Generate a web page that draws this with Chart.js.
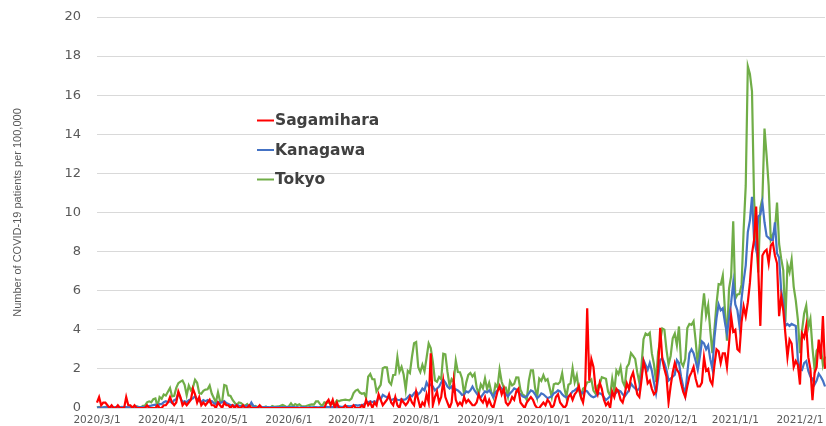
<!DOCTYPE html>
<html><head><meta charset="utf-8">
<script src="https://cdn.jsdelivr.net/npm/chart.js@4.4.1/dist/chart.umd.min.js"></script>
<style>html,body{margin:0;padding:0;background:#fff;}canvas{display:block;}</style>
</head><body>
<canvas id="c" width="826" height="426"></canvas>
<script>
// ---- data ----
const firstDay = '2020/3/1';
const dayCount = 350;
const monthTicks = ['2020/3/1','2020/4/1','2020/5/1','2020/6/1','2020/7/1','2020/8/1','2020/9/1','2020/10/1','2020/11/1','2020/12/1','2021/1/1','2021/2/1'];
const seriesNames = ['Sagamihara','Kanagawa','Tokyo'];
const yTickValues = [0,2,4,6,8,10,12,14,16,18,20];

const sagamihara = [
// Mar
0.28,0.56,0.14,0.28,0.28,0.14,0, 0.14,0,0,0.14,0,0,0, 0.56,0.14,0.14,0,0.14,0,0, 0,0,0,0.14,0,0,0, 0,0.14,0,
// Apr
0,0.14,0.14,0.28, 0.56,0.28,0.14,0.28,0.84,0.56,0.14, 0.28,0.14,0.28,0.42,0.98,0.7,0.28, 0.56,0.14,0.28,0.14,0.28,0.42,0.14, 0.14,0,0.28,0.14,0,
// May
0.28,0.14,0.14,0,0.14,0,0.14, 0,0,0.14,0,0,0.14,0, 0,0,0,0.14,0,0,0, 0,0,0,0,0,0,0, 0,0,0,
// Jun
0,0,0,0,0,0,0, 0,0,0,0,0,0,0, 0,0,0,0,0.28,0.42,0.14, 0.42,0,0.28,0,0,0,0.14, 0,0,
// Jul
0,0.14,0,0, 0,0.14,0,0.42,0.14,0.28,0, 0.28,0.14,0.7,0.42,0.14,0.28,0.42, 0.7,0.28,0.14,0.56,0.14,0,0.42, 0.28,0.14,0.28,0.56,0.28,0.14,
// Aug
0.84,0.42,0,0.28,0.14,0.7,0.28, 2.8,0.14,0.56,0.84,0.28,0.56,1.4, 0.56,0.28,0,0.28,1.4,0.42,0.14, 0.28,0.14,0.56,0.28,0.42,0.28,0.14, 0.14,0.28,0.7,
// Sep
0.42,0.28,0.56,0.14,0.42,0.14,0, 0.42,0.84,1.12,0.7,0.98,0.28,0.14, 0.28,0.56,0.42,0.84,0.98,0.28,0.14, 0,0.28,0.42,0.56,0.42,0.14,0, 0,0.14,
// Oct
0.28,0.14,0.42,0.28,0,0.14,0.56, 0.7,0.28,0.14,0,0.14,0.56,0.7, 0.42,0.7,0.84,1.12,0.56,0.28,0.98, 5.1,1.4,2.5,2.1,1.0,0.7,1.3, 0.98,0.42,0.14,
// Nov
0.28,0,0.84,0.56,0.98,0.84,0.42, 0.28,0.7,1.26,0.98,1.54,1.82,1.26, 0.7,0.56,1.4,2.38,1.96,1.26,1.4, 0.98,0.7,0.84,2.0,4.1,2.5,2.0, 1.6,0.28,
// Dec
1.12,1.82,2.3,1.96,1.8,1.26,0.84, 0.56,1.12,1.6,1.82,2.1,1.5,1.1, 1.1,1.3,2.6,1.9,2.0,1.4,1.2, 2.2,3.0,2.9,2.3,2.8,2.8,2.1, 3.3,4.7,3.9,
// Jan
4.0,3.0,2.9,4.4,5.2,4.7,5.4, 6.4,7.9,8.6,10.3,7.1,4.2,7.8, 8.0,8.1,7.4,8.3,8.45,7.8,7.4, 4.7,5.7,5.0,3.8,2.6,3.5,3.3, 2.1,2.4,2.2,
// Feb
1.2,3.8,3.6,4.2,2.6,2.0,0.4,1.8,2.1,3.5,2.5,4.7,2.0
];

const kanagawa = [
// Mar
0.02,0.03,0.01,0.03,0.04,0.03,0.05, 0.02,0.03,0.04,0.05,0.03,0.06,0.04, 0.05,0.03,0.06,0.04,0.05,0.07,0.05, 0.04,0.06,0.05,0.08,0.1,0.12,0.15, 0.17,0.1,0.2,
// Apr
0.2,0.3,0.35,0.3, 0.35,0.25,0.4,0.45,0.75,0.5,0.3, 0.35,0.3,0.4,0.45,0.5,0.6,0.45, 0.35,0.3,0.4,0.35,0.4,0.3,0.35, 0.25,0.2,0.3,0.25,0.3,
// May
0.35,0.25,0.2,0.15,0.15,0.1,0.15, 0.12,0.1,0.08,0.1,0.12,0.08,0.28, 0.1,0.06,0.05,0.08,0.06,0.05,0.04, 0.05,0.03,0.04,0.03,0.05,0.04,0.03, 0.04,0.03,0.05,
// Jun
0.05,0.04,0.06,0.03,0.04,0.02,0.03, 0.04,0.03,0.02,0.04,0.03,0.05,0.04, 0.03,0.04,0.05,0.03,0.06,0.05,0.04, 0.06,0.07,0.05,0.08,0.06,0.07,0.09, 0.1,0.08,
// Jul
0.1,0.12,0.15,0.12, 0.15,0.12,0.2,0.25,0.3,0.35,0.3, 0.35,0.3,0.55,0.45,0.67,0.6,0.55, 0.5,0.4,0.45,0.5,0.42,0.4,0.45, 0.42,0.45,0.55,0.67,0.6,0.75,
// Aug
0.85,0.7,0.8,1.0,0.9,1.3,1.1, 1.2,1.1,0.9,1.0,1.1,1.3,1.45, 1.3,1.1,1.0,1.1,0.85,0.95,0.9, 0.8,0.67,0.7,0.85,0.8,0.9,1.1, 0.9,0.75,0.6,
// Sep
0.55,0.7,0.85,0.8,0.9,0.75,0.55, 0.8,0.9,1.1,1.0,0.85,0.7,0.6, 0.75,0.85,1.0,0.95,0.8,0.7,0.6, 0.55,0.6,0.75,0.9,0.85,0.7,0.5, 0.6,0.75,
// Oct
0.7,0.6,0.5,0.55,0.6,0.75,0.8, 0.9,0.85,0.7,0.6,0.55,0.6,0.7, 0.85,0.9,1.0,0.95,0.8,0.75,0.9, 0.85,0.7,0.6,0.55,0.6,0.7,0.75, 0.7,0.55,0.4,
// Nov
0.5,0.6,0.75,0.7,0.8,0.9,0.85, 0.7,0.6,0.75,0.9,1.25,1.1,1.0, 0.9,1.0,1.6,2.45,2.2,1.95,2.3, 1.9,1.3,0.75,1.5,2.45,2.55,2.3, 1.95,1.4,
// Dec
1.5,1.6,1.7,2.45,2.3,1.6,1.1, 0.65,1.8,2.8,3.0,2.8,2.4,1.95, 2.6,3.4,3.3,3.0,3.2,2.5,2.0, 3.6,4.6,5.3,5.0,5.1,4.4,3.8, 4.6,5.4,6.4,
// Jan
5.3,5.0,4.2,5.6,6.5,7.3,9.0, 9.6,10.8,8.6,8.1,9.8,9.9,10.5, 9.5,8.8,8.7,8.6,8.6,9.5,7.9, 7.7,6.0,5.4,4.2,4.3,4.2,4.3, 4.25,4.2,2.45,
// Feb
2.0,1.95,2.3,2.4,1.9,1.6,1.5,1.2,1.4,1.75,1.6,1.4,1.1
];

const tokyo = [
// Mar
0.02,0.06,0.01,0.03,0.06,0.04,0.01, 0.01,0,0.04,0.05,0.01,0.04,0.01, 0.04,0.01,0.04,0.06,0.05,0.08,0.05, 0.02,0.11,0.12,0.29,0.34,0.29,0.45, 0.49,0.09,0.56,
// Apr
0.47,0.69,0.64,0.83,1.02,0.59,0.62,1.03,1.27,1.35, 1.41,1.19,0.65,1.15,0.91,1.06,1.44,1.29,0.76,0.73, 0.88,0.94,0.96,1.15,0.74,0.51,0.28,0.8,0.34,0.33,
// May
1.18,1.14,0.65,0.62,0.41,0.27,0.16,0.28,0.26,0.16, 0.11,0.2,0.07,0.21,0.06,0.1,0.04,0.07,0.04,0.04, 0.08,0.02,0.01,0.1,0.06,0.07,0.08,0.11,0.16,0.1, 0.04,
// Jun
0.09,0.24,0.09,0.2,0.14,0.19,0.1,0.09,0.09,0.13, 0.16,0.18,0.17,0.34,0.34,0.19,0.11,0.29,0.25,0.28, 0.25,0.21,0.22,0.39,0.34,0.39,0.41,0.43,0.41,0.39,
// Jul
0.48,0.76,0.89,0.94,0.79,0.73,0.76,0.54,1.6,1.74, 1.47,1.47,0.85,1.02,1.18,2.04,2.09,2.07,1.34,1.2, 1.69,1.7,2.61,1.86,2.11,1.71,0.94,1.9,1.79,2.62, 3.31,
// Aug
3.37,2.09,1.84,2.21,1.88,2.57,3.3,3.06,2.36,1.41, 1.34,1.59,1.47,2.78,2.75,1.86,1.15,1.48,1.33,2.42, 1.84,1.83,1.51,0.68,1.3,1.69,1.79,1.61,1.76,1.06, 0.71,
// Sep
1.21,1.01,1.51,0.97,1.29,0.83,0.55,1.21,1.06,1.97, 1.34,1.04,1.04,0.58,1.36,1.16,1.24,1.57,1.56,0.94, 0.7,0.63,0.42,1.39,1.93,1.93,1.03,0.56,1.51,1.39,
// Oct
1.68,1.4,1.48,1.02,0.56,1.21,1.26,1.23,1.33,1.78, 1.04,0.56,1.19,1.26,2.03,1.32,1.68,0.93,0.56,0.99, 1.07,1.32,1.33,1.45,0.89,0.73,1.13,1.22,1.58,1.54, 1.49,
// Nov
0.83,0.62,1.49,0.87,1.92,1.73,2.1,1.35,1.12,2.09, 2.26,2.81,2.67,2.51,1.82,1.29,2.13,3.52,3.81,3.73, 3.85,2.79,2.24,1.33,2.86,3.44,4.07,4.01,2.99,2.22,
// Dec
2.66,3.57,3.81,3.21,4.17,2.34,2.14,2.51,4.09,4.3, 4.25,4.44,3.43,2.18,3.29,4.84,5.87,4.74,5.26,3.97, 2.8,4.02,5.34,6.34,6.31,6.78,5.06,3.44,6.11,6.74, 9.55,
// Jan
5.59,5.81,5.83,6.31,9.13,11.36,17.48,17.09,16.2,10.67, 8.71,6.93,10.24,10.73,14.29,12.92,11.37,8.6,8.86,9.1, 10.51,8.39,7.64,7.04,4.41,7.33,6.95,7.6,6.2,5.49, 4.52,
// Feb
2.81,3.97,4.83,5.24,4.12,4.56,3.06,1.97,2.94,3.1,3.1,2.19,2.64
];

// ---- daily category labels ----
const labels = [];
(function(){
  const p = firstDay.split('/').map(Number);
  for (let i = 0; i < dayCount; i++) {
    const d = new Date(Date.UTC(p[0], p[1]-1, p[2]+i));
    labels.push(d.getUTCFullYear() + '/' + (d.getUTCMonth()+1) + '/' + d.getUTCDate());
  }
})();

const colors = ['#FF0000', '#4472C4', '#70AD47'];
const seriesData = [sagamihara, kanagawa, tokyo];

const inlineLegend = {
  id: 'inlineLegend',
  afterDraw(chart) {
    const ctx = chart.ctx;
    const rows = [120.5, 150, 179.5];
    chart.data.datasets.forEach((ds, i) => {
      const y = rows[i];
      ctx.save();
      ctx.strokeStyle = ds.borderColor;
      ctx.lineWidth = 2;
      ctx.beginPath();
      ctx.moveTo(257, y);
      ctx.lineTo(274, y);
      ctx.stroke();
      ctx.fillStyle = '#404040';
      ctx.font = 'bold 15.5px "DejaVu Sans"';
      ctx.textBaseline = 'middle';
      ctx.textAlign = 'left';
      ctx.fillText(ds.label, 275, y + 0.5);
      ctx.restore();
    });
  }
};

function zeroPad(s) { s.paddingTop = 0; s.paddingBottom = 0; s.paddingLeft = 0; s.paddingRight = 0; }

new Chart(document.getElementById('c'), {
  type: 'line',
  data: {
    labels: labels,
    datasets: seriesNames.map((name, i) => ({
      label: name,
      data: seriesData[i],
      borderColor: colors[i],
      backgroundColor: colors[i],
      borderWidth: 2.2,
      pointRadius: 0,
      pointHoverRadius: 0,
      tension: 0,
      fill: false
    }))
  },
  options: {
    responsive: false,
    animation: false,
    devicePixelRatio: 1,
    layout: { padding: { top: 17, right: 1, left: 0, bottom: 0 } },
    plugins: { legend: { display: false }, tooltip: { enabled: false } },
    scales: {
      x: {
        type: 'category',
        grid: { display: false, drawTicks: false },
        border: { display: false },
        afterBuildTicks: (axis) => {
          axis.ticks = axis.ticks.filter(t => monthTicks.includes(labels[t.value]));
        },
        ticks: {
          autoSkip: false, maxRotation: 0, minRotation: 0, padding: 6,
          color: '#595959',
          font: { family: '"DejaVu Sans"', size: 10.5 }
        },
        afterFit: (s) => { s.height = 18; zeroPad(s); }
      },
      y: {
        min: 0, max: 20,
        afterBuildTicks: (axis) => { axis.ticks = yTickValues.map(v => ({ value: v })); },
        ticks: {
          padding: 16,
          color: '#595959',
          font: { family: '"DejaVu Sans"', size: 13 }
        },
        grid: { color: '#D9D9D9', lineWidth: 1, drawTicks: false },
        border: { display: false },
        title: {
          display: true,
          text: 'Number of COVID-19 patients per 100,000',
          color: '#595959',
          font: { family: '"Liberation Sans"', size: 11 },
          padding: { top: 11, bottom: 0 }
        },
        afterFit: (s) => { s.width = 97; zeroPad(s); }
      }
    }
  },
  plugins: [inlineLegend]
});
</script>
</body></html>
